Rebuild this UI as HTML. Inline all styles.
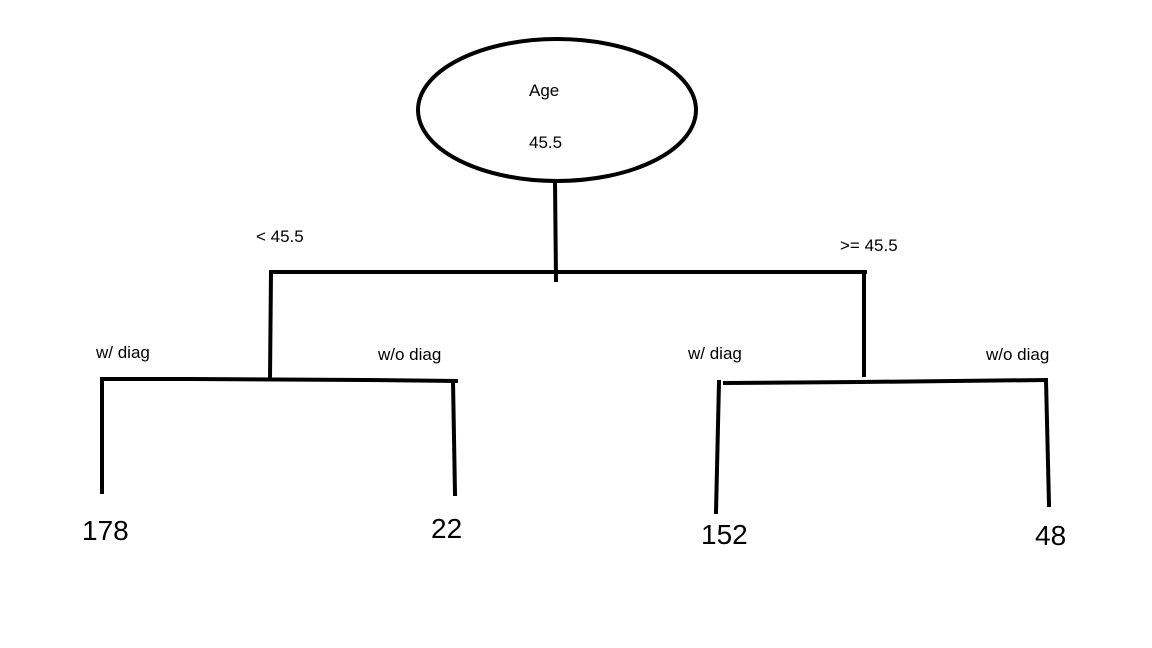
<!DOCTYPE html>
<html><head><meta charset="utf-8"><style>
html,body{margin:0;padding:0;background:#fff;}
svg{display:block;}
text{font-family:"Liberation Sans",sans-serif;fill:#000;}
</style></head><body>
<svg width="1152" height="648" viewBox="0 0 1152 648" xmlns="http://www.w3.org/2000/svg">
<rect width="1152" height="648" fill="#fff"/>
<g stroke="#000" stroke-width="4" fill="none" stroke-linecap="square">
<ellipse cx="557" cy="110" rx="139" ry="71"/>
<line x1="555" y1="182" x2="556" y2="280"/>
<line x1="271" y1="272" x2="865" y2="272"/>
<line x1="271" y1="272" x2="270" y2="379"/>
<line x1="864" y1="272" x2="864" y2="375"/>
<polyline points="102,379 190,379 365,380 456,381"/>
<line x1="102" y1="379" x2="102" y2="492"/>
<line x1="453" y1="381" x2="455" y2="494"/>
<polyline points="725,383 860,382 1046,380"/>
<line x1="719" y1="382" x2="716" y2="512"/>
<line x1="1046" y1="380" x2="1049" y2="505"/>
</g>
<g font-size="17">
<text x="529" y="96">Age</text>
<text x="529" y="148">45.5</text>
<text x="256" y="242">&lt; 45.5</text>
<text x="840" y="251">&gt;= 45.5</text>
<text x="96" y="358">w/ diag</text>
<text x="378" y="360">w/o diag</text>
<text x="688" y="359">w/ diag</text>
<text x="986" y="360">w/o diag</text>
</g>
<g font-size="28">
<text x="82" y="540">178</text>
<text x="431" y="538">22</text>
<text x="701" y="544">152</text>
<text x="1035" y="545">48</text>
</g>
</svg>
</body></html>
